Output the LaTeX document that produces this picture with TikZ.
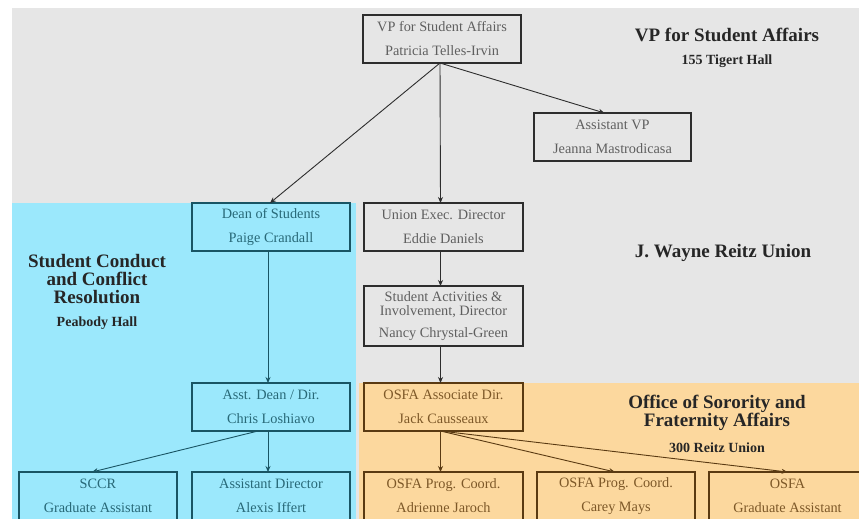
\documentclass[tikz,border=0pt]{standalone}
\usepackage{fontspec}
\setmainfont{Liberation Serif}
\usetikzlibrary{arrows.meta}
\definecolor{grayBg}{RGB}{230,230,230}
\definecolor{cyanBg}{RGB}{155,232,252}
\definecolor{orangeBg}{RGB}{252,216,158}
\definecolor{grayLine}{RGB}{45,45,45}
\definecolor{grayText}{RGB}{95,95,95}
\definecolor{tealLine}{RGB}{25,85,100}
\definecolor{tealText}{RGB}{40,105,120}
\definecolor{brownLine}{RGB}{90,58,18}
\definecolor{brownText}{RGB}{125,88,40}
\tikzset{
  x=1pt,y=-1pt,
  box/.style={draw,line width=1.7pt,inner sep=0pt,outer sep=0pt,minimum width=158pt,minimum height=48pt,align=center,font=\fontsize{14.3}{15}\selectfont},
  graybox/.style={box,draw=grayLine,fill=grayBg,text=grayText},
  tealbox/.style={box,draw=tealLine,fill=cyanBg,text=tealText},
  brownbox/.style={box,draw=brownLine,fill=orangeBg,text=brownText},
  conn/.style={line width=0.9pt,-{Stealth[length=6pt,width=5pt]}},
  head/.style={font=\fontsize{19}{17.8}\selectfont\bfseries,align=center,text=black!85,inner sep=0pt},
  sub/.style={font=\fontsize{14}{14}\selectfont\bfseries,align=center,text=black!85,inner sep=0pt}
}
\begin{document}
\begin{tikzpicture}
\useasboundingbox (0,0) rectangle (859,519);
\clip (0,0) rectangle (859,519);
\fill[white] (0,0) rectangle (859,519);
\fill[grayBg] (12,8) rectangle (859,519);
\fill[cyanBg] (12,203) rectangle (356,519);
\fill[orangeBg] (359,383) rectangle (859,519);

\node[graybox] (vp) at (442,39) {VP for Student Affairs\\[9pt]Patricia Telles-Irvin};
\node[graybox,minimum width=157pt] (avp) at (612.5,137) {Assistant VP\\[9pt]Jeanna Mastrodicasa};
\node[tealbox] (dean) at (271,227) {Dean of Students\\[9pt]Paige Crandall};
\node[graybox,minimum width=159pt] (union) at (443.5,227) {Union Exec. Director\\[9pt]Eddie Daniels};
\node[graybox,minimum width=159pt,minimum height=60pt] (sai) at (443.5,316) {Student Activities \&\\[-1pt]Involvement, Director\\[7pt]Nancy Chrystal-Green};
\node[tealbox] (adean) at (271,407) {Asst. Dean / Dir.\\[9pt]Chris Loshiavo};
\node[tealbox] (sccr) at (98,496) {SCCR\\[9pt]Graduate Assistant};
\node[tealbox] (adir) at (271,496) {Assistant Director\\[9pt]Alexis Iffert};
\node[brownbox,minimum width=159pt] (osfa) at (443.5,407) {OSFA Associate Dir.\\[9pt]Jack Causseaux};
\node[brownbox,minimum width=159pt] (p1) at (443.5,496) {OSFA Prog. Coord.\\[9pt]Adrienne Jaroch};
\node[brownbox] (p2) at (616,496) {OSFA Prog. Coord.\\[9pt]Carey Mays};
\node[brownbox,minimum width=157pt] (grad) at (787.5,496) {OSFA\\[9pt]Graduate Assistant};

\node[head] (h1) at (727,35) {VP for Student Affairs};
\node[sub] (s1) at (727,61) {155 Tigert Hall};
\node[head] (h2) at (723,253) {J. Wayne Reitz Union};
\node[head] (h3) at (97,279) {Student Conduct\\and Conflict\\Resolution};
\node[sub] (s3) at (97,323) {Peabody Hall};
\node[head] (h4) at (717,413) {Office of Sorority and\\Fraternity Affairs};
\node[sub] (s4) at (717,448) {300 Reitz Union};

\draw[conn,grayLine] ([xshift=-2pt]vp.south) -- ([xshift=-1pt]dean.north);
\draw[conn,grayLine] ([xshift=-2pt]vp.south) -- ([xshift=-3pt]union.north);
\draw[conn,grayLine] ([xshift=-2pt]vp.south) -- ([xshift=-8pt]avp.north);
\draw[conn,grayLine] ([xshift=-3pt]union.south) -- ([xshift=-3pt]sai.north);
\draw[conn,grayLine] ([xshift=-3pt]sai.south) -- ([xshift=-3pt]osfa.north);
\draw[conn,tealLine] ([xshift=-3pt]dean.south) -- ([xshift=-3pt]adean.north);
\draw[conn,tealLine] ([xshift=-3pt]adean.south) -- ([xshift=-3pt]adir.north);
\draw[conn,tealLine] ([xshift=-13pt]adean.south) -- ([xshift=-6pt]sccr.north);
\draw[conn,brownLine] ([xshift=-3pt]osfa.south) -- ([xshift=-3pt]p1.north);
\draw[conn,brownLine] ([xshift=-3pt]osfa.south) -- ([xshift=-1pt]p2.north);
\draw[conn,brownLine] ([xshift=-3pt]osfa.south) -- (grad.north);
\end{tikzpicture}
\end{document}
